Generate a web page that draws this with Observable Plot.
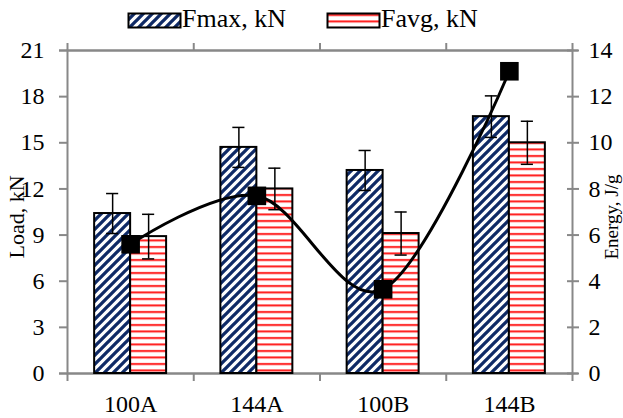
<!DOCTYPE html>
<html><head><meta charset="utf-8">
<script src="https://cdn.jsdelivr.net/npm/d3@7"></script>
<script src="https://cdn.jsdelivr.net/npm/@observablehq/plot@0.6"></script>
<style>
body{margin:0;background:#fff;font-family:"Liberation Serif","Times New Roman",serif;}
#wrap{position:relative;width:623px;height:418px;overflow:hidden;}
#legend{position:relative;height:36px;width:623px;}
#legend svg{position:absolute;top:12px;}
#legend .lt{position:absolute;top:6px;font-size:26px;line-height:26px;color:#000;white-space:nowrap;}
#chart svg{display:block;}
</style></head><body>
<div id="wrap"><div id="legend"></div><div id="chart"></div></div>
<script>
const categories = ["100A", "144A", "100B", "144B"];
const fmax = [10.4, 14.7, 13.2, 16.7];
const fmaxErr = [1.3, 1.3, 1.3, 1.35];
const favg = [8.9, 12.0, 9.1, 15.0];
const favgErr = [1.45, 1.35, 1.4, 1.4];
const energy = [5.6, 7.7, 3.65, 13.1];
const loadTicks = [0, 3, 6, 9, 12, 15, 18, 21];
const energyMax = 14;
const seriesNames = ["Fmax, kN", "Favg, kN"];
const axisTitles = ["Load, kN", "Energy, J/g"];

const loadMax = 21;
const ratio = loadMax / energyMax;
const idx = categories.map((_, i) => i);
const boundaries = d3.range(categories.length + 1).map(i => i - 0.5);
const half = 0.285;   // bar width in category units
const capHalf = 0.048;
const gray = "#888";
const fills = ["url(#pFmax)", "url(#pFavg)"];

const bars = [
  ...idx.map(i => ({i, s: 0, v: fmax[i], e: fmaxErr[i]})),
  ...idx.map(i => ({i, s: 1, v: favg[i], e: favgErr[i]}))
];
const cx = d => d.i + (d.s - 0.5) * half;

const chart = Plot.plot({
  width: 623,
  height: 382,
  marginLeft: 67,
  marginRight: 51,
  marginTop: 14,
  marginBottom: 45,
  style: {fontFamily: "'Liberation Serif', 'Times New Roman', serif", color: "black", background: "white"},
  x: {type: "linear", domain: [-0.5, categories.length - 0.5]},
  y: {domain: [0, loadMax]},
  marks: [
    Plot.frame({stroke: gray, strokeWidth: 2}),
    Plot.ruleY([0, loadMax], {stroke: gray, strokeWidth: 2, insetLeft: -8, insetRight: -6}),
    Plot.axisX({anchor: "top", ticks: boundaries, tickSize: 8, tickFormat: () => "", stroke: gray, strokeWidth: 2, label: null}),
    Plot.axisX({anchor: "bottom", ticks: boundaries, tickSize: 8, tickFormat: () => "", stroke: gray, strokeWidth: 2, label: null}),
    Plot.axisX({anchor: "bottom", ticks: idx, tickSize: 0, tickPadding: 21, tickFormat: i => categories[i], fontSize: 24, fill: "black", label: null}),
    Plot.axisY({anchor: "left", ticks: loadTicks, tickSize: 8, tickPadding: 15, stroke: gray, strokeWidth: 2, fill: "black", fontSize: 24, label: null}),
    Plot.axisY({anchor: "right", ticks: loadTicks, tickSize: 12, dx: -6, tickPadding: 10, tickFormat: d => d / ratio, stroke: gray, strokeWidth: 2, fill: "black", fontSize: 24, label: null}),
    Plot.rectY(bars.filter(d => d.s === 0), {x1: d => d.i - half, x2: d => d.i, y1: 0, y2: "v", fill: fills[0], stroke: "black", strokeWidth: 2}),
    Plot.rectY(bars.filter(d => d.s === 1), {x1: d => d.i, x2: d => d.i + half, y1: 0, y2: "v", fill: fills[1], stroke: "black", strokeWidth: 2}),
    Plot.ruleX(bars, {x: cx, y1: d => d.v - d.e, y2: d => d.v + d.e, stroke: "black", strokeWidth: 1.5}),
    Plot.ruleY(bars, {y: d => d.v + d.e, x1: d => cx(d) - capHalf, x2: d => cx(d) + capHalf, stroke: "black", strokeWidth: 1.5}),
    Plot.ruleY(bars, {y: d => d.v - d.e, x1: d => cx(d) - capHalf, x2: d => cx(d) + capHalf, stroke: "black", strokeWidth: 1.5}),
    Plot.line(idx, {x: i => i, y: i => energy[i] * ratio, curve: "cardinal", stroke: "black", strokeWidth: 3}),
    Plot.dot(idx, {x: i => i, y: i => energy[i] * ratio, symbol: "square", r: 10.5, fill: "black", stroke: "none"}),
    Plot.text([axisTitles[0]], {text: d => d, frameAnchor: "left", textAnchor: "middle", dx: -51, dy: 5, rotate: -90, fontSize: 22, fill: "black"}),
    Plot.text([axisTitles[1]], {text: d => d, frameAnchor: "right", textAnchor: "middle", dx: 39, dy: 5, rotate: -90, fontSize: 19, fill: "black"})
  ]
});

d3.select(chart).insert("defs", ":first-child").html(`
  <pattern id="pFmax" patternUnits="userSpaceOnUse" width="9" height="9">
    <rect width="9" height="9" fill="white"/>
    <path d="M-2.25,2.25 L2.25,-2.25 M0,9 L9,0 M6.75,11.25 L11.25,6.75" stroke="#0f2a66" stroke-width="3.3"/>
  </pattern>
  <pattern id="pFavg" patternUnits="userSpaceOnUse" width="8" height="6.5">
    <rect width="8" height="6.5" fill="white"/>
    <rect y="2" width="8" height="2" fill="#ff1a1a"/>
  </pattern>`);
document.getElementById("chart").appendChild(chart);

// legend
const legend = d3.select("#legend");
const legendPos = [{sw: 127, tx: 182}, {sw: 326, tx: 381}];
seriesNames.forEach((name, k) => {
  const s = legend.append("svg").attr("width", 55).attr("height", 17).style("left", legendPos[k].sw + "px");
  s.append("rect").attr("x", 1.5).attr("y", 1.5).attr("width", 52).attr("height", 14)
    .attr("fill", fills[k]).attr("stroke", "black").attr("stroke-width", 2);
  legend.append("div").attr("class", "lt").style("left", legendPos[k].tx + "px").text(name);
});
</script>
</body></html>
